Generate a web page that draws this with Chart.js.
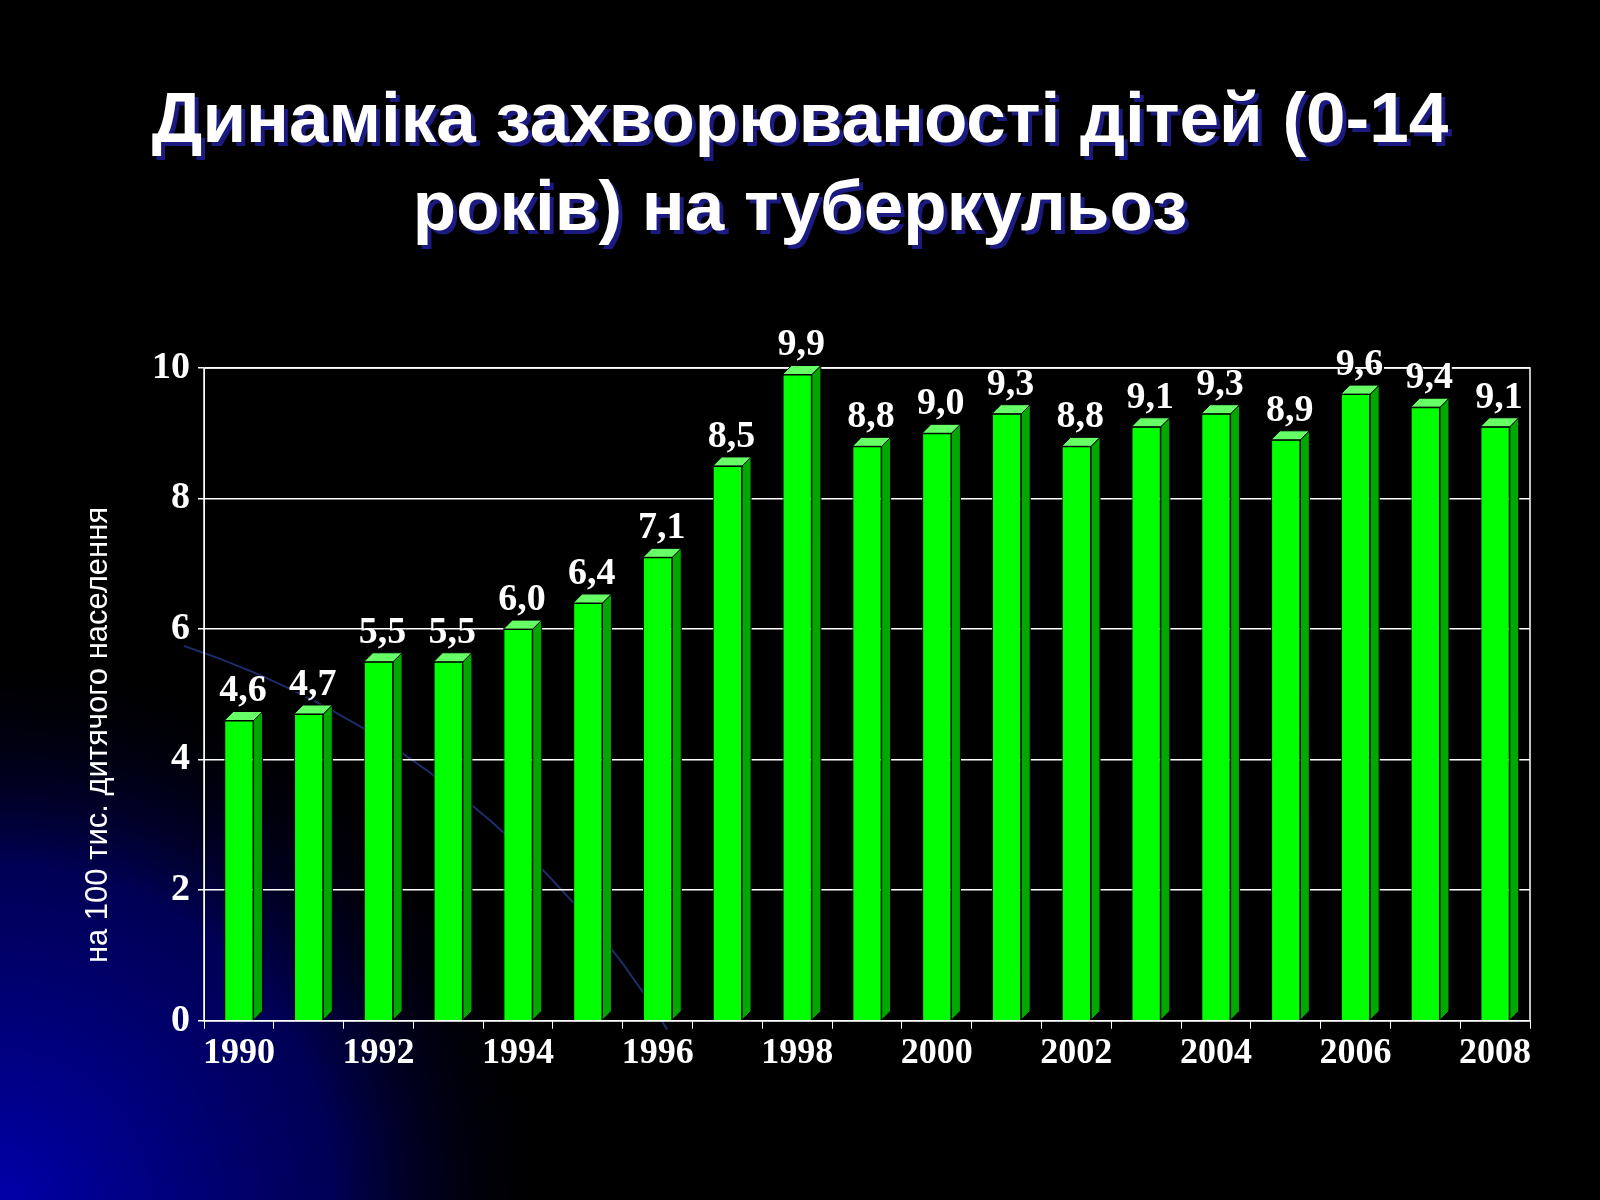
<!DOCTYPE html>
<html>
<head>
<meta charset="utf-8">
<style>html,body{margin:0;background:#000;}</style>
</head>
<body>
<canvas id="myChart" width="1600" height="1200" style="width:1600px;height:1200px;"></canvas>
<script src="https://cdn.jsdelivr.net/npm/chart.js"></script>
<script>
const years = ['1990','1991','1992','1993','1994','1995','1996','1997','1998','1999','2000','2001','2002','2003','2004','2005','2006','2007','2008'];
const values = [4.6,4.7,5.5,5.5,6.0,6.4,7.1,8.5,9.9,8.8,9.0,9.3,8.8,9.1,9.3,8.9,9.6,9.4,9.1];
const titleLines = ['Динаміка захворюваності дітей (0-14', 'років) на туберкульоз'];
const yTitle = 'на 100 тис. дитячого населення';

const bgPlugin = {
    id: 'bg',
    beforeDraw: (chart) => {
        const {ctx, width, height} = chart;
        ctx.save();
        ctx.fillStyle = '#000';
        ctx.fillRect(0, 0, width, height);
        const g = ctx.createRadialGradient(0, height, 0, 0, height, 560);
        g.addColorStop(0, 'rgba(0,0,170,1)');
        g.addColorStop(0.6, 'rgba(0,0,120,0.7)');
        g.addColorStop(1, 'rgba(0,0,0,0)');
        ctx.fillStyle = g;
        ctx.fillRect(0, 0, width, height);
        ctx.strokeStyle = 'rgba(60,90,220,0.5)';
        ctx.lineWidth = 2;
        ctx.beginPath();
        ctx.arc(-100, 1500, 900, -1.25, -0.55);
        ctx.stroke();
        // title
        ctx.font = 'bold 71px "Liberation Sans", Arial';
        ctx.textAlign = 'center';
        ctx.textBaseline = 'middle';
        titleLines.forEach((t, i) => {
            const y = 122 + i * 88;
            ctx.fillStyle = '#1a1a80';
            ctx.fillText(t, width / 2 + 4, y + 4);
            ctx.fillStyle = '#fff';
            ctx.fillText(t, width / 2, y);
        });
        // y axis title
        ctx.save();
        ctx.translate(98, 735);
        ctx.rotate(-Math.PI / 2);
        ctx.font = '31px "Liberation Sans", Arial';
        ctx.fillStyle = '#fff';
        ctx.fillText(yTitle, 0, 0);
        ctx.restore();
        ctx.restore();
    }
};

const bar3d = {
    id: 'bar3d',
    afterDatasetsDraw: (chart) => {
        const {ctx, chartArea} = chart;
        const meta = chart.getDatasetMeta(0);
        const d = 9;
        ctx.save();
        ctx.strokeStyle = '#fff';
        ctx.lineWidth = 1.5;
        ctx.strokeRect(chartArea.left, chartArea.top, chartArea.right - chartArea.left, chartArea.bottom - chartArea.top);
        ctx.strokeStyle = '#000';
        ctx.lineWidth = 1;
        meta.data.forEach((bar, i) => {
            const l = bar.x - bar.width / 2, r = bar.x + bar.width / 2, t = bar.y, b = bar.base;
            ctx.fillStyle = '#00a800';
            ctx.beginPath();
            ctx.moveTo(r, b); ctx.lineTo(r + d, b - d); ctx.lineTo(r + d, t - d); ctx.lineTo(r, t); ctx.closePath();
            ctx.fill(); ctx.stroke();
            ctx.fillStyle = '#66ff66';
            ctx.beginPath();
            ctx.moveTo(l, t); ctx.lineTo(l + d, t - d); ctx.lineTo(r + d, t - d); ctx.lineTo(r, t); ctx.closePath();
            ctx.fill(); ctx.stroke();
            ctx.font = 'bold 38px "Liberation Serif", "Times New Roman"';
            ctx.textAlign = 'center';
            ctx.textBaseline = 'bottom';
            const txt = values[i].toFixed(1).replace('.', ',');
            ctx.fillStyle = '#000';
            ctx.fillText(txt, bar.x + 6, t - 10 + 2);
            ctx.fillStyle = '#fff';
            ctx.fillText(txt, bar.x + 4, t - 10);
        });
        ctx.restore();
    }
};

var ctx = document.getElementById('myChart');
var myChart = new Chart(ctx, {
    type: 'bar',
    data: {
        labels: years,
        datasets: [{
            data: values,
            backgroundColor: '#00ff00',
            borderColor: '#000',
            borderWidth: 1,
            barPercentage: 0.42,
            categoryPercentage: 1
        }]
    },
    options: {
        responsive: false,
        animation: false,
        layout: {padding: {top: 368, left: 144, right: 70, bottom: 122}},
        plugins: {legend: {display: false}, tooltip: {enabled: false}},
        scales: {
            y: {
                min: 0, max: 10,
                ticks: {stepSize: 2, color: '#fff', font: {family: '"Liberation Serif"', weight: 'bold', size: 38}, padding: 8},
                grid: {color: '#fff', lineWidth: 1.5, tickLength: 6},
                border: {color: '#fff'}
            },
            x: {
                ticks: {
                    autoSkip: false, maxRotation: 0, color: '#fff',
                    font: {family: '"Liberation Serif"', weight: 'bold', size: 36},
                    callback: (v, i) => i % 2 === 0 ? years[i] : ''
                },
                grid: {display: true, drawOnChartArea: false, offset: true, color: '#fff', tickLength: 8},
                border: {color: '#fff'}
            }
        }
    },
    plugins: [bgPlugin, bar3d]
});
</script>
</body>
</html>
